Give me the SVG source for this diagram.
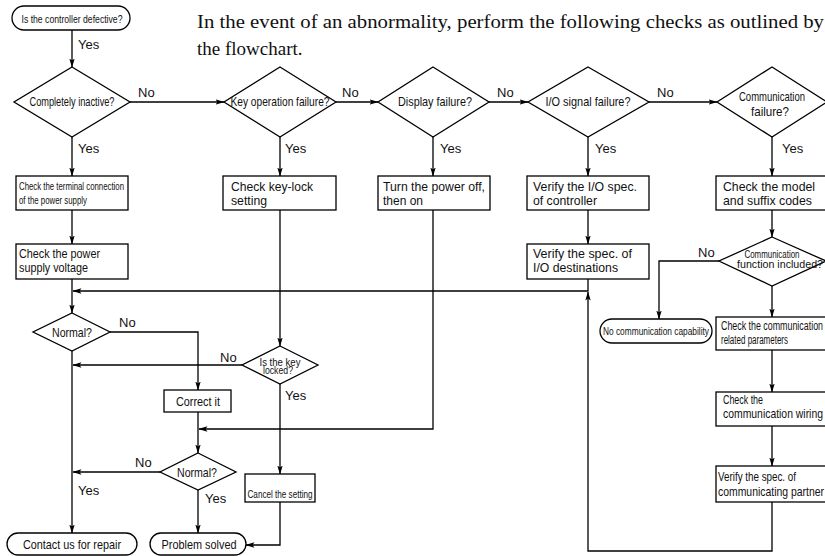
<svg xmlns="http://www.w3.org/2000/svg" width="825" height="556" viewBox="0 0 825 556">
<style>
.ln{stroke:#000;stroke-width:1.3;fill:none}
.bx{fill:#fff;stroke:#000;stroke-width:1.3}
.t{font-family:"Liberation Sans",Arial,sans-serif;font-size:13px;fill:#111}
.s{font-size:11px}
.m{text-anchor:middle}
.lb{font-family:"Liberation Sans",Arial,sans-serif;font-size:13px;fill:#111}
.hd{font-family:"Liberation Serif","Times New Roman",serif;font-size:19px;fill:#111}
</style>
<defs>
<marker id="ah" markerWidth="9" markerHeight="7" refX="8.5" refY="3.5" orient="auto" markerUnits="userSpaceOnUse">
<path d="M0,0.8 L9,3.5 L0,6.2 L2,3.5 z" fill="#000"/>
</marker>
</defs>
<rect width="825" height="556" fill="#fff"/>
<text class="hd" x="197" y="28" textLength="627" lengthAdjust="spacingAndGlyphs">In the event of an abnormality, perform the following checks as outlined by</text>
<text class="hd" x="197" y="55">the flowchart.</text>

<g id="connectors">
<path class="ln" marker-end="url(#ah)" d="M72,30 V67"/>
<path class="ln" marker-end="url(#ah)" d="M130,102 H224"/>
<path class="ln" marker-end="url(#ah)" d="M336,102 H378"/>
<path class="ln" marker-end="url(#ah)" d="M489,102 H528"/>
<path class="ln" marker-end="url(#ah)" d="M649,102 H717"/>
<path class="ln" marker-end="url(#ah)" d="M72,137 V176"/>
<path class="ln" marker-end="url(#ah)" d="M280,137 V176"/>
<path class="ln" marker-end="url(#ah)" d="M433,137 V176"/>
<path class="ln" marker-end="url(#ah)" d="M588,137 V176"/>
<path class="ln" marker-end="url(#ah)" d="M772,137 V176"/>
<path class="ln" marker-end="url(#ah)" d="M72,210 V244"/>
<path class="ln" marker-end="url(#ah)" d="M588,210 V244"/>
<path class="ln" marker-end="url(#ah)" d="M772,210 V237"/>
<path class="ln" marker-end="url(#ah)" d="M72,279 V313"/>
<path class="ln" marker-end="url(#ah)" d="M588,279 V291 H73"/>
<path class="ln" marker-end="url(#ah)" d="M772,502 V551 H588 V292"/>
<path class="ln" marker-end="url(#ah)" d="M719,261 H659 V319"/>
<path class="ln" marker-end="url(#ah)" d="M772,286 V317"/>
<path class="ln" marker-end="url(#ah)" d="M772,350 V392"/>
<path class="ln" marker-end="url(#ah)" d="M772,426 V466"/>
<path class="ln" marker-end="url(#ah)" d="M280,210 V346"/>
<path class="ln" marker-end="url(#ah)" d="M242,365 H73"/>
<path class="ln" marker-end="url(#ah)" d="M280,384 V474"/>
<path class="ln" marker-end="url(#ah)" d="M280,502 V545 H246"/>
<path class="ln" marker-end="url(#ah)" d="M110,332 H198 V390"/>
<path class="ln" marker-end="url(#ah)" d="M198,412 V453"/>
<path class="ln" marker-end="url(#ah)" d="M433,210 V429 H199"/>
<path class="ln" marker-end="url(#ah)" d="M160,472 H73"/>
<path class="ln" marker-end="url(#ah)" d="M198,490 V533"/>
<path class="ln" marker-end="url(#ah)" d="M72,351 V533"/>
<text class="lb" x="78" y="49">Yes</text>
<text class="lb" x="138" y="97">No</text>
<text class="lb" x="342" y="97">No</text>
<text class="lb" x="497" y="97">No</text>
<text class="lb" x="657" y="97">No</text>
<text class="lb" x="78" y="153">Yes</text>
<text class="lb" x="285" y="153">Yes</text>
<text class="lb" x="440" y="153">Yes</text>
<text class="lb" x="595" y="153">Yes</text>
<text class="lb" x="782" y="153">Yes</text>
<text class="lb" x="698" y="257">No</text>
<text class="lb" x="119" y="327">No</text>
<text class="lb" x="220" y="362">No</text>
<text class="lb" x="285" y="400">Yes</text>
<text class="lb" x="135" y="467">No</text>
<text class="lb" x="205" y="503">Yes</text>
<text class="lb" x="78" y="495">Yes</text>
</g>

<g id="start">
<rect class="bx" x="12" y="6" width="118" height="24" rx="12"/>
<text class="t s m" x="72" y="23" textLength="101" lengthAdjust="spacingAndGlyphs">Is the controller defective?</text>
</g>
<g id="d-inactive">
<polygon class="bx" points="72,67 130,102 72,137 14,102"/>
<text class="t m" x="72" y="106" textLength="85" lengthAdjust="spacingAndGlyphs">Completely inactive?</text>
</g>
<g id="d-key">
<polygon class="bx" points="280,67 336,102 280,137 224,102"/>
<text class="t m" x="280" y="106" textLength="99" lengthAdjust="spacingAndGlyphs">Key operation failure?</text>
</g>
<g id="d-display">
<polygon class="bx" points="433,67 489,102 433,137 378,102"/>
<text class="t m" x="435" y="106" textLength="74" lengthAdjust="spacingAndGlyphs">Display failure?</text>
</g>
<g id="d-io">
<polygon class="bx" points="588,67 649,102 588,137 528,102"/>
<text class="t m" x="588" y="106" textLength="85" lengthAdjust="spacingAndGlyphs">I/O signal failure?</text>
</g>
<g id="d-comm">
<polygon class="bx" points="772,67 827,102 772,137 717,102"/>
<text class="t m" x="772" y="101" textLength="66" lengthAdjust="spacingAndGlyphs">Communication</text>
<text class="t m" x="770" y="116" textLength="38" lengthAdjust="spacingAndGlyphs">failure?</text>
</g>
<g id="b-terminal">
<rect class="bx" x="16" y="176" width="112" height="34"/>
<text class="t s" x="19" y="190" textLength="105" lengthAdjust="spacingAndGlyphs">Check the terminal connection</text>
<text class="t s" x="19" y="204" textLength="68" lengthAdjust="spacingAndGlyphs">of the power supply</text>
</g>
<g id="b-keylock">
<rect class="bx" x="223" y="176" width="113" height="34"/>
<text class="t" x="231" y="191" textLength="82" lengthAdjust="spacingAndGlyphs">Check key-lock</text>
<text class="t" x="231" y="205" textLength="36" lengthAdjust="spacingAndGlyphs">setting</text>
</g>
<g id="b-turn">
<rect class="bx" x="378" y="176" width="112" height="34"/>
<text class="t" x="383" y="191" textLength="102" lengthAdjust="spacingAndGlyphs">Turn the power off,</text>
<text class="t" x="383" y="205" textLength="40" lengthAdjust="spacingAndGlyphs">then on</text>
</g>
<g id="b-verify-io">
<rect class="bx" x="527" y="176" width="122" height="34"/>
<text class="t" x="533" y="191" textLength="104" lengthAdjust="spacingAndGlyphs">Verify the I/O spec.</text>
<text class="t" x="533" y="205" textLength="64" lengthAdjust="spacingAndGlyphs">of controller</text>
</g>
<g id="b-model">
<rect class="bx" x="716" y="176" width="110" height="34"/>
<text class="t" x="723" y="191" textLength="92" lengthAdjust="spacingAndGlyphs">Check the model</text>
<text class="t" x="723" y="205" textLength="89" lengthAdjust="spacingAndGlyphs">and suffix codes</text>
</g>
<g id="b-voltage">
<rect class="bx" x="16" y="244" width="112" height="35"/>
<text class="t" x="19" y="258" textLength="81" lengthAdjust="spacingAndGlyphs">Check the power</text>
<text class="t" x="19" y="272" textLength="69" lengthAdjust="spacingAndGlyphs">supply voltage</text>
</g>
<g id="b-dest">
<rect class="bx" x="527" y="244" width="122" height="35"/>
<text class="t" x="533" y="258" textLength="99" lengthAdjust="spacingAndGlyphs">Verify the spec. of</text>
<text class="t" x="533" y="272" textLength="85" lengthAdjust="spacingAndGlyphs">I/O destinations</text>
</g>
<g id="d-commfunc">
<polygon class="bx" points="772,237 826,261 772,286 719,261"/>
<text class="t m" x="772" y="258" style="font-size:10.5px" textLength="55" lengthAdjust="spacingAndGlyphs">Communication</text>
<text class="t m" x="780" y="268" style="font-size:10.5px" textLength="86" lengthAdjust="spacingAndGlyphs">function included?</text>
</g>
<g id="t-nocomm">
<rect class="bx" x="600" y="319" width="112" height="24" rx="12"/>
<text class="t s m" x="656" y="335" textLength="106" lengthAdjust="spacingAndGlyphs">No communication capability</text>
</g>
<g id="b-params">
<rect class="bx" x="716" y="317" width="110" height="33"/>
<text class="t" x="721" y="330" style="font-size:12px" textLength="102" lengthAdjust="spacingAndGlyphs">Check the communication</text>
<text class="t" x="721" y="344" style="font-size:12px" textLength="67" lengthAdjust="spacingAndGlyphs">related parameters</text>
</g>
<g id="b-wiring">
<rect class="bx" x="716" y="392" width="110" height="34"/>
<text class="t" x="723" y="404" textLength="40" lengthAdjust="spacingAndGlyphs">Check the</text>
<text class="t" x="723" y="418" textLength="100" lengthAdjust="spacingAndGlyphs">communication wiring</text>
</g>
<g id="b-partner">
<rect class="bx" x="716" y="466" width="110" height="36"/>
<text class="t" x="718" y="481" textLength="78" lengthAdjust="spacingAndGlyphs">Verify the spec. of</text>
<text class="t" x="718" y="496" textLength="106" lengthAdjust="spacingAndGlyphs">communicating partner</text>
</g>
<g id="d-normal1">
<polygon class="bx" points="72,313 110,332 72,351 33,332"/>
<text class="t m" x="72" y="337" textLength="40" lengthAdjust="spacingAndGlyphs">Normal?</text>
</g>
<g id="d-keylocked">
<polygon class="bx" points="280,346 318,365 280,384 242,365"/>
<text class="t m" x="280" y="366" style="font-size:10.5px" textLength="41" lengthAdjust="spacingAndGlyphs">Is the key</text>
<text class="t m" x="278" y="374" style="font-size:10.5px" textLength="30" lengthAdjust="spacingAndGlyphs">locked?</text>
</g>
<g id="b-correct">
<rect class="bx" x="164" y="390" width="67" height="22"/>
<text class="t m" x="198" y="406" textLength="44" lengthAdjust="spacingAndGlyphs">Correct it</text>
</g>
<g id="d-normal2">
<polygon class="bx" points="198,453 236,472 198,490 160,472"/>
<text class="t m" x="197" y="477" textLength="40" lengthAdjust="spacingAndGlyphs">Normal?</text>
</g>
<g id="b-cancel">
<rect class="bx" x="245" y="474" width="70" height="28"/>
<text class="t s m" x="280" y="498" textLength="65" lengthAdjust="spacingAndGlyphs">Cancel the setting</text>
</g>
<g id="t-contact">
<rect class="bx" x="7" y="533" width="130" height="22" rx="11"/>
<text class="t m" x="72" y="549" textLength="98" lengthAdjust="spacingAndGlyphs">Contact us for repair</text>
</g>
<g id="t-solved">
<rect class="bx" x="150" y="533" width="96" height="22" rx="11"/>
<text class="t m" x="199" y="549" textLength="75" lengthAdjust="spacingAndGlyphs">Problem solved</text>
</g>
</svg>
